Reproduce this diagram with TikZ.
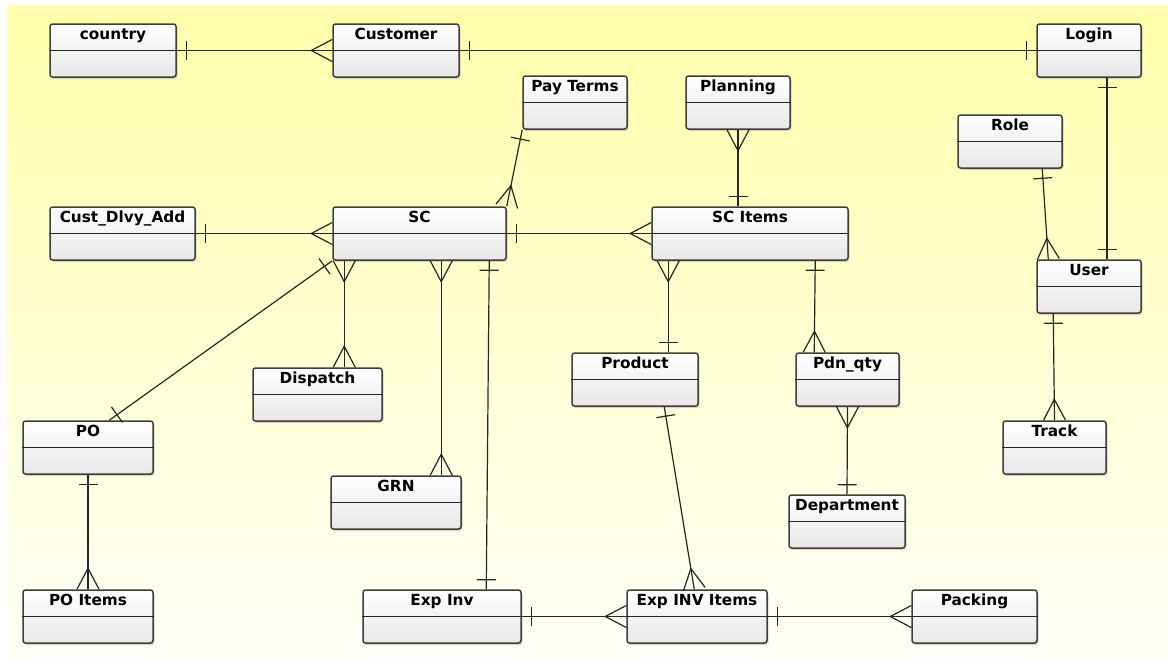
\documentclass[tikz,border=0pt]{standalone}
\usepackage{fontspec}
\setmainfont{DejaVu Sans}
\usetikzlibrary{decorations.markings,shadows}

\definecolor{bgtop}{RGB}{255,255,170}
\definecolor{bgbot}{RGB}{255,255,248}
\definecolor{boxline}{RGB}{62,62,62}
\definecolor{boxtop}{RGB}{255,255,255}
\definecolor{boxbot}{RGB}{232,232,232}
\definecolor{relline}{RGB}{38,38,38}

\tikzset{
  entity/.style={draw=boxline, line width=1.5pt, rounded corners=2.5pt,
    top color=boxtop, bottom color=boxbot, minimum height=53pt, inner sep=0pt,
    drop shadow={shadow xshift=1.5pt, shadow yshift=-2pt, opacity=0.22, fill=black!70}},
  divider/.style={draw=relline, line width=1.2pt},
  title/.style={anchor=base, font=\bfseries\fontsize{15.3}{18}\selectfont, inner sep=0pt},
  rel/.style={draw=relline, line width=1.2pt},
  one start/.style={postaction={decorate, decoration={markings,
    mark=at position 9.5pt with {\draw[rel] (0,-9.5pt) -- (0,9.5pt);}}}},
  one end/.style={postaction={decorate, decoration={markings,
    mark=at position -9.5pt with {\draw[rel] (0,-9.5pt) -- (0,9.5pt);}}}},
  many start/.style={postaction={decorate, decoration={markings,
    mark=at position 21pt with {\draw[rel] (-21pt,-11pt) -- (0,0) -- (-21pt,11pt);}}}},
  many end/.style={postaction={decorate, decoration={markings,
    mark=at position -21pt with {\draw[rel] (21pt,-11pt) -- (0,0) -- (21pt,11pt);}}}},
}

% entity box: name, centre x, centre y, width, title
\newcommand\erbox[5]{%
  \node[entity, minimum width=#4pt] (#1) at (#2,#3) {};
  \draw[divider] (#1.west) -- (#1.east);
  \node[title] (#1-title) at ([yshift=-16pt]#1.north) {#5};
}

\begin{document}
\begin{tikzpicture}[x=1pt,y=-1pt]
  \useasboundingbox (0,0) rectangle (1168,657);
  \fill[white] (0,0) rectangle (1168,657);
  \fill[top color=bgtop, bottom color=bgbot] (7,5) rectangle (1168,657);

  % entities
  \erbox{country}{113}{50.5}{126}{country}
  \erbox{customer}{396}{50.5}{126}{Customer}
  \erbox{login}{1089}{50.5}{104}{Login}
  \erbox{payterms}{575}{102.5}{104}{Pay Terms}
  \erbox{planning}{738}{102.5}{104}{Planning}
  \erbox{role}{1010}{141.5}{104}{Role}
  \erbox{custdlvy}{122.5}{233.5}{145}{Cust\_Dlvy\_Add}
  \erbox{sc}{419.5}{233.5}{173}{SC}
  \erbox{scitems}{750}{233.5}{196}{SC Items}
  \erbox{user}{1089}{286.5}{104}{User}
  \erbox{dispatch}{317.5}{394.5}{129}{Dispatch}
  \erbox{product}{635}{379.5}{126}{Product}
  \erbox{pdnqty}{847.5}{379.5}{103}{Pdn\_qty}
  \erbox{po}{88}{447.5}{130}{PO}
  \erbox{track}{1054.5}{447.5}{103}{Track}
  \erbox{grn}{396}{502.5}{130}{GRN}
  \erbox{department}{847}{521.5}{116}{Department}
  \erbox{poitems}{88}{616.5}{130}{PO Items}
  \erbox{expinv}{442}{616.5}{158}{Exp Inv}
  \erbox{expinvitems}{697}{616.5}{140}{Exp INV Items}
  \erbox{packing}{974.5}{616.5}{125}{Packing}

  % relationships
  \draw[rel, one start, many end] (country.east) -- (customer.west);
  \draw[rel, one start, one end] (customer.east) -- (login.west);
  \draw[rel, one start, one end] ([xshift=18pt]login.south) -- ([xshift=18pt]user.north);
  \draw[rel, one start, many end] ([xshift=85pt]role.south west) -- ([xshift=12pt]user.north west);
  \draw[rel, one start, many end] ([xshift=17pt]user.south west) -- (track.north);
  \draw[rel, one start, many end] (custdlvy.east) -- (sc.west);
  \draw[rel, one start, many end] (sc.east) -- (scitems.west);
  \draw[rel, many start, one end] (sc.north east) -- (payterms.south west);
  \draw[rel, many start, one end] (planning.south) -- ([xshift=-12pt]scitems.north);
  \draw[rel, many start, many end] ([xshift=12pt]sc.south west) -- ([xshift=92pt]dispatch.north west);
  \draw[rel, many start, many end] ([xshift=109pt]sc.south west) -- ([xshift=111pt]grn.north west);
  \draw[rel, one start, one end] ([xshift=157pt]sc.south west) -- ([xshift=124pt]expinv.north west);
  \draw[rel, one start, one end] (sc.south west) -- ([xshift=87pt]po.north west);
  \draw[rel, one start, many end] (po.south) -- (poitems.north);
  \draw[rel, many start, one end] ([xshift=17pt]scitems.south west) -- ([xshift=97pt]product.north west);
  \draw[rel, one start, many end] ([xshift=164pt]scitems.south west) -- ([xshift=19pt]pdnqty.north west);
  \draw[rel, many start, one end] (pdnqty.south) -- (department.north);
  \draw[rel, one start, many end] ([xshift=93pt]product.south west) -- ([xshift=68pt]expinvitems.north west);
  \draw[rel, one start, many end] (expinv.east) -- (expinvitems.west);
  \draw[rel, one start, many end] (expinvitems.east) -- (packing.west);
\end{tikzpicture}
\end{document}
